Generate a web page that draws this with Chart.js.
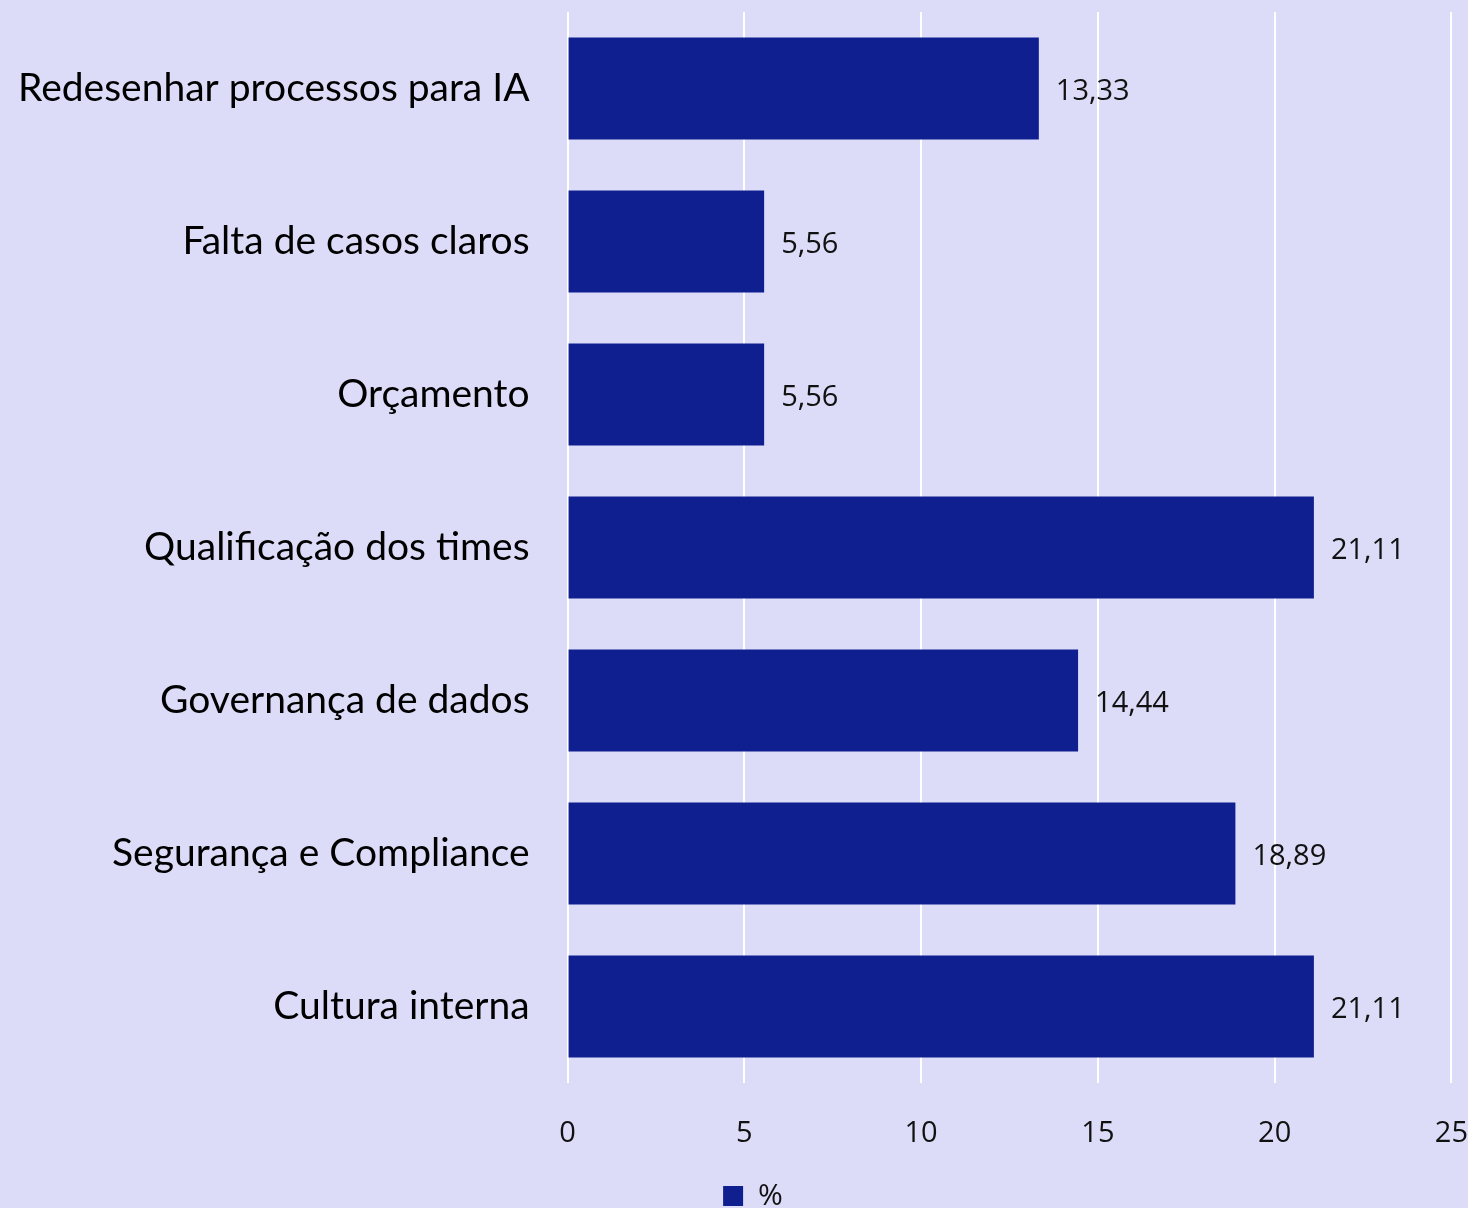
<!DOCTYPE html>
<html>
<head>
<meta charset="utf-8">
<script src="https://cdn.jsdelivr.net/npm/chart.js@4"></script>
<style>
  html, body { margin: 0; padding: 0; background: #dcdcf8; }
  #wrap { width: 1468px; height: 1208px; }
</style>
</head>
<body>
<div id="wrap"><canvas id="bars"></canvas></div>
<script>
const categories = ['Redesenhar processos para IA', 'Falta de casos claros', 'Orçamento',
    'Qualificação dos times', 'Governança de dados', 'Segurança e Compliance', 'Cultura interna'];
const percentValues = [13.33, 5.56, 5.56, 21.11, 14.44, 18.89, 21.11];
const xTicks = [0, 5, 10, 15, 20, 25];

const barColor = '#0f1f8f';

// writes the value next to each bar, pt-BR style (comma)
const valueLabels = {
    id: 'valueLabels',
    afterLayout(chart) {
        // legend in the original sits a bit right of centre
        chart.legend.left += 13;
        chart.legend.right += 13;
    },
    afterDatasetsDraw(chart) {
        const c = chart.ctx;
        const meta = chart.getDatasetMeta(0);
        c.save();
        c.font = '29px "Open Sans"';
        c.fillStyle = '#111';
        c.textAlign = 'left';
        c.textBaseline = 'middle';
        meta.data.forEach((bar, i) => {
            const txt = percentValues[i].toFixed(2).replace('.', ',');
            c.fillText(txt, bar.x + 17, bar.y + 3);
        });
        c.restore();
    }
};

const ctx = document.getElementById('bars');

new Chart(ctx, {
    type: 'bar',
    data: {
        labels: categories,
        datasets: [{
            label: '%',
            data: percentValues,
            backgroundColor: barColor,
            borderWidth: 0,
            categoryPercentage: 1,
            barPercentage: 0.667
        }]
    },
    options: {
        indexAxis: 'y',
        responsive: true,
        maintainAspectRatio: false,
        animation: false,
        layout: { padding: { top: 12, right: 6, left: 18, bottom: -13 } },
        scales: {
            x: {
                min: 0,
                max: 25,
                afterBuildTicks: axis => { axis.ticks = xTicks.map(v => ({ value: v })); },
                afterFit: axis => { axis.height = 98; },
                grid: { color: '#ffffff', lineWidth: 2, drawTicks: true, tickLength: 33, tickColor: 'rgba(0,0,0,0)' },
                border: { display: false },
                ticks: {
                    color: '#111',
                    font: { family: '"Open Sans"', size: 29 },
                    padding: 0
                }
            },
            y: {
                grid: { display: true, drawOnChartArea: false, drawTicks: true, tickLength: 38, tickColor: 'rgba(0,0,0,0)' },
                border: { display: false },
                ticks: {
                    color: '#000',
                    font: { family: 'Lato', size: 39, lineHeight: 0.62 },
                    padding: 0
                }
            }
        },
        plugins: {
            legend: {
                position: 'bottom',
                labels: {
                    boxWidth: 20,
                    boxHeight: 20,
                    padding: 0,
                    color: '#111',
                    font: { family: '"Open Sans"', size: 30 }
                }
            },
            tooltip: { enabled: false }
        }
    },
    plugins: [valueLabels]
});
</script>
</body>
</html>
